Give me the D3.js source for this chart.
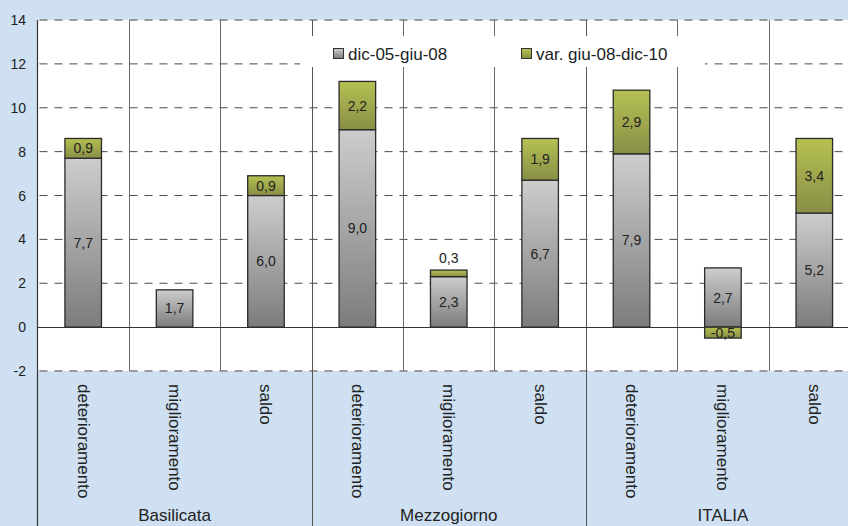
<!DOCTYPE html>
<html>
<head>
<meta charset="utf-8">
<script src="https://cdn.jsdelivr.net/npm/d3@7"></script>
<style>
  html, body { margin: 0; padding: 0; background: #cee0f1; }
  svg { display: block; font-family: "Liberation Sans", Arial, sans-serif; }
</style>
</head>
<body>
<svg id="chart" width="848" height="526"></svg>
<script>
// Regions and the three indicators shown for each
const groups = ["Basilicata", "Mezzogiorno", "ITALIA"];
const measures = ["deterioramento", "miglioramento", "saldo"];
const seriesNames = ["dic-05-giu-08", "var. giu-08-dic-10"];

// Values per bar, in order: Basilicata (det, mig, saldo), Mezzogiorno (...), ITALIA (...)
const baseValues = [7.7, 1.7, 6.0, 9.0, 2.3, 6.7, 7.9, 2.7, 5.2];
const changeValues = [0.9, 0.0, 0.9, 2.2, 0.3, 1.9, 2.9, -0.5, 3.4];

const yTicks = [-2, 0, 2, 4, 6, 8, 10, 12, 14];

const W = 848, H = 526;
const plot = { left: 37.5, right: 860, top: 20, bottom: 371 };

const svg = d3.select("#chart");
const keys = [];
groups.forEach(g => measures.forEach(m => keys.push(g + "|" + m)));

const x = d3.scaleBand().domain(keys).range([plot.left, plot.right]).padding(0);
const y = d3.scaleLinear().domain([-2, 14]).range([plot.bottom, plot.top]);
const barW = x.bandwidth() * 0.4;

// gradients
const defs = svg.append("defs");
function grad(id, top, bottom) {
  const g = defs.append("linearGradient").attr("id", id)
    .attr("x1", 0).attr("y1", 0).attr("x2", 0).attr("y2", 1);
  g.append("stop").attr("offset", "0%").attr("stop-color", top);
  g.append("stop").attr("offset", "100%").attr("stop-color", bottom);
}
grad("gGray", "#cdcdcd", "#7c7c7d");
grad("gGreen", "#b6c152", "#898e46");

// background
svg.append("rect").attr("width", W).attr("height", H).attr("fill", "#cee0f1");
svg.append("rect").attr("x", plot.left).attr("y", plot.top)
  .attr("width", plot.right - plot.left).attr("height", plot.bottom - plot.top)
  .attr("fill", "#ffffff");

// horizontal gridlines
svg.append("g").selectAll("line").data(yTicks.filter(t => t !== 0)).join("line")
  .attr("x1", plot.left).attr("x2", plot.right)
  .attr("y1", d => y(d)).attr("y2", d => y(d))
  .attr("stroke", d => (d === 14 || d === -2) ? "#9a9a9a" : "#4a4a4a")
  .attr("stroke-width", d => (d === 14 || d === -2) ? 2 : 1)
  .attr("stroke-dasharray", "8,7")
  .attr("stroke-dashoffset", -2);

// vertical separators between bars
const seps = keys.slice(1).map((k, i) => ({ k, group: (i + 1) % 3 === 0 }));
svg.append("g").selectAll("line").data(seps).join("line")
  .attr("x1", d => Math.round(x(d.k)) + 0.5).attr("x2", d => Math.round(x(d.k)) + 0.5)
  .attr("y1", plot.top)
  .attr("y2", d => d.group ? H : plot.bottom)
  .attr("stroke", d => d.group ? "#555" : "#6a6a6a")
  .attr("stroke-width", 1);

// zero line
svg.append("line").attr("x1", plot.left).attr("x2", plot.right)
  .attr("y1", Math.round(y(0)) + 0.5).attr("y2", Math.round(y(0)) + 0.5)
  .attr("stroke", "#333").attr("stroke-width", 1);

// y axis
svg.append("line").attr("x1", plot.left).attr("x2", plot.left)
  .attr("y1", plot.top).attr("y2", H).attr("stroke", "#333").attr("stroke-width", 1.2);
svg.append("g").selectAll("text").data(yTicks).join("text")
  .attr("x", 26).attr("y", d => y(d)).attr("dy", "0.36em")
  .attr("text-anchor", "end").attr("font-size", 14).attr("fill", "#222")
  .text(d => d);

// legend (white box)
const lg = svg.append("g");
lg.append("rect").attr("x", 300).attr("y", 36).attr("width", 405).attr("height", 31).attr("fill", "#fff");
const legendItems = [
  { name: seriesNames[0], fill: "url(#gGray)", x: 333 },
  { name: seriesNames[1], fill: "url(#gGreen)", x: 521 }
];
legendItems.forEach(it => {
  lg.append("rect").attr("x", it.x + 0.5).attr("y", 48.5).attr("width", 10).attr("height", 10)
    .attr("fill", it.fill).attr("stroke", "#333").attr("stroke-width", 1);
  lg.append("text").attr("x", it.x + 15).attr("y", 59.5).attr("font-size", 17).attr("fill", "#222")
    .text(it.name);
});

// bar segments
const fmt = v => d3.format(".1f")(v).replace(".", ",").replace("−", "-");
const segs = [];
keys.forEach((k, i) => {
  const b = baseValues[i], c = changeValues[i];
  segs.push({ k, v: b, y0: 0, y1: b, fill: "url(#gGray)" });
  if (c >= 0) segs.push({ k, v: c, y0: b, y1: b + c, fill: "url(#gGreen)" });
  else segs.push({ k, v: c, y0: c, y1: 0, fill: "url(#gGreen)" });
});

const bars = svg.append("g");
bars.selectAll("rect").data(segs).join("rect")
  .attr("x", d => x(d.k) + (x.bandwidth() - barW) / 2)
  .attr("width", barW)
  .attr("y", d => y(Math.max(d.y0, d.y1)))
  .attr("height", d => Math.abs(y(d.y0) - y(d.y1)))
  .attr("fill", d => d.fill)
  .attr("stroke", "#2b2b2b").attr("stroke-width", 1.3);

// value labels
svg.append("g").selectAll("text").data(segs.filter(d => d.v !== 0)).join("text")
  .attr("x", d => x(d.k) + x.bandwidth() / 2)
  .attr("y", d => {
    const h = Math.abs(y(d.y0) - y(d.y1));
    if (h < 9 && d.v > 0) return y(d.y1) - 7;
    return (y(d.y0) + y(d.y1)) / 2 + 5;
  })
  .attr("text-anchor", "middle").attr("font-size", 14).attr("fill", "#222")
  .text(d => fmt(d.v));

// category labels (rotated)
svg.append("g").selectAll("text").data(keys).join("text")
  .attr("transform", d => `translate(${x(d) + x.bandwidth() / 2},384) rotate(90)`)
  .attr("dominant-baseline", "central")
  .attr("font-size", 17).attr("fill", "#222")
  .text(d => d.split("|")[1]);

// group labels
svg.append("g").selectAll("text").data(groups).join("text")
  .attr("x", g => {
    const a = x(g + "|" + measures[0]);
    const b = x(g + "|" + measures[2]) + x.bandwidth();
    return (a + b) / 2;
  })
  .attr("y", 521)
  .attr("text-anchor", "middle").attr("font-size", 17).attr("fill", "#222")
  .text(g => g);
</script>
</body>
</html>
